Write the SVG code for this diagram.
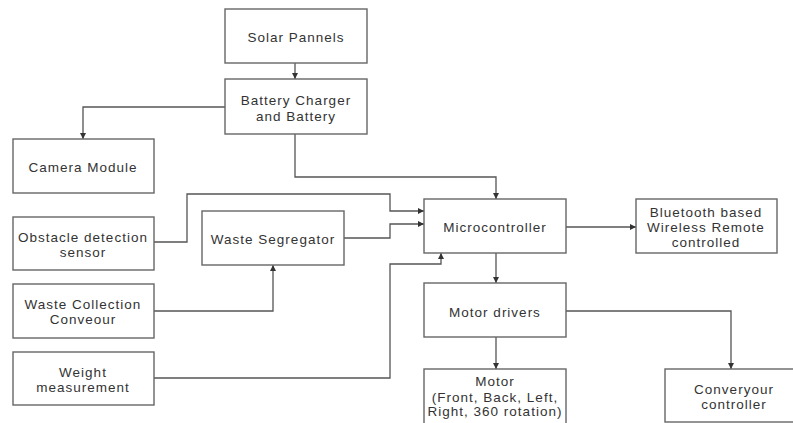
<svg xmlns="http://www.w3.org/2000/svg" width="793" height="423" viewBox="0 0 793 423">
<defs>
<style>
.box{fill:#fff;stroke:#666;stroke-width:1.4}
.lbl{font-family:"Liberation Sans",Arial,sans-serif;font-size:13.5px;letter-spacing:1px;fill:#333;text-anchor:middle}
.conn{fill:none;stroke:#555;stroke-width:1.3}
</style>
<marker id="ah" viewBox="0 0 10 10" refX="10" refY="5" markerWidth="6" markerHeight="6" markerUnits="userSpaceOnUse" orient="auto">
<path d="M0,0 L10,5 L0,10 z" fill="#333"/>
</marker>
</defs>
<rect width="793" height="423" fill="#fff"/>
<g id="connectors">
<path class="conn" marker-end="url(#ah)" d="M295,63 V79"/>
<path class="conn" marker-end="url(#ah)" d="M225,107 H83 V139"/>
<path class="conn" marker-end="url(#ah)" d="M295,134 V177 H496 V199"/>
<path class="conn" marker-end="url(#ah)" d="M154,242 H187 V194 H390 V211 H424"/>
<path class="conn" marker-end="url(#ah)" d="M344,238 H390 V224 H424"/>
<path class="conn" marker-end="url(#ah)" d="M154,311 H273 V265"/>
<path class="conn" marker-end="url(#ah)" d="M154,378 H390 V264 H441 V253"/>
<path class="conn" marker-end="url(#ah)" d="M566,227 H636"/>
<path class="conn" marker-end="url(#ah)" d="M496,253 V283"/>
<path class="conn" marker-end="url(#ah)" d="M496,337 V369"/>
<path class="conn" marker-end="url(#ah)" d="M566,311 H731 V369"/>
</g>
<g id="solar"><rect class="box" x="225" y="9" width="142" height="54"/><text class="lbl" x="296" y="42">Solar Pannels</text></g>
<g id="battery"><rect class="box" x="225" y="79" width="142" height="55"/><text class="lbl" x="296" y="105">Battery Charger</text><text class="lbl" x="296" y="121">and Battery</text></g>
<g id="camera"><rect class="box" x="13" y="139" width="141" height="54"/><text class="lbl" x="83" y="172">Camera Module</text></g>
<g id="obstacle"><rect class="box" x="13" y="217" width="141" height="53"/><text class="lbl" x="83" y="241.5">Obstacle detection</text><text class="lbl" x="83" y="257">sensor</text></g>
<g id="collection"><rect class="box" x="13" y="284" width="141" height="54"/><text class="lbl" x="83" y="309">Waste Collection</text><text class="lbl" x="83" y="324">Conveour</text></g>
<g id="weight"><rect class="box" x="13" y="352" width="141" height="53"/><text class="lbl" x="83" y="377">Weight</text><text class="lbl" x="83" y="392">measurement</text></g>
<g id="segregator"><rect class="box" x="202" y="211" width="142" height="54"/><text class="lbl" x="273" y="244">Waste Segregator</text></g>
<g id="micro"><rect class="box" x="424" y="199" width="142" height="54"/><text class="lbl" x="495" y="232">Microcontroller</text></g>
<g id="bluetooth"><rect class="box" x="636" y="199" width="141" height="54"/><text class="lbl" x="706" y="217">Bluetooth based</text><text class="lbl" x="706" y="232">Wireless Remote</text><text class="lbl" x="706" y="247">controlled</text></g>
<g id="drivers"><rect class="box" x="424" y="283" width="142" height="54"/><text class="lbl" x="495" y="317">Motor drivers</text></g>
<g id="motor"><rect class="box" x="424" y="369" width="142" height="60"/><text class="lbl" x="495" y="386">Motor</text><text class="lbl" x="495" y="401.5">(Front, Back, Left,</text><text class="lbl" x="495" y="416">Right, 360 rotation)</text></g>
<g id="conveyour"><rect class="box" x="665" y="369" width="134" height="53"/><text class="lbl" x="734" y="394">Converyour</text><text class="lbl" x="734" y="409">controller</text></g>
</svg>
